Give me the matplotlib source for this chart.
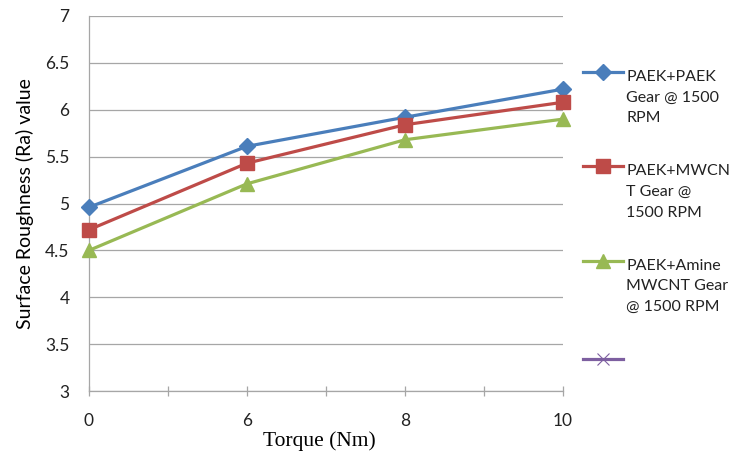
import numpy as np
import matplotlib
matplotlib.use("Agg")
import matplotlib.pyplot as plt
from matplotlib.legend_handler import HandlerLine2D
from matplotlib.ticker import FixedLocator

plt.rcParams['font.family'] = ['Lato', 'DejaVu Sans']

torque = ['0', '6', '8', '10']
paek_paek = [4.96, 5.61, 5.92, 6.22]
paek_mwcnt = [4.72, 5.43, 5.84, 6.08]
paek_amine = [4.50, 5.21, 5.68, 5.90]
empty_series = []

labels = ['PAEK+PAEK\nGear @ 1500\nRPM',
          'PAEK+MWCN\nT Gear @\n1500 RPM',
          'PAEK+Amine\nMWCNT Gear\n@ 1500 RPM',
          ' ']


class TopLineHandler(HandlerLine2D):
    # put the line beside the first text line instead of the middle one
    def __init__(self, shift, **kw):
        super().__init__(**kw)
        self.shift = shift

    def create_artists(self, legend, orig_handle, xdescent, ydescent,
                       width, height, fontsize, trans):
        arts = super().create_artists(legend, orig_handle, xdescent, ydescent,
                                      width, height, fontsize, trans)
        for a in arts:
            y = np.asarray(a.get_ydata(), dtype=float)
            a.set_ydata(y + self.shift * fontsize)
        return arts


fig = plt.figure(figsize=(7.32, 4.54), dpi=100)
ax = fig.add_axes([89 / 732, 1 - 391 / 454, 474 / 732, 375 / 454])

x = np.arange(len(torque))
l1, = ax.plot(x, paek_paek, color='#4A7EBB', lw=2.3, marker='D', ms=8.5,
              clip_on=False, zorder=4)
l2, = ax.plot(x, paek_mwcnt, color='#BE4B48', lw=2.3, marker='s', ms=9.5,
              clip_on=False, zorder=4)
l3, = ax.plot(x, paek_amine, color='#98B954', lw=2.3, marker='^', ms=10,
              clip_on=False, zorder=4)
l4, = ax.plot(empty_series, empty_series, color='#7D5FA0', lw=2.3,
              marker='x', ms=8, mew=0.8)

ax.set_xlim(0, len(torque) - 1)
ax.set_ylim(3, 7)
ax.set_yticks(np.arange(3, 7.01, 0.5))
ax.set_yticklabels(['3', '3.5', '4', '4.5', '5', '5.5', '6', '6.5', '7'])
ax.set_xticks(x)
ax.set_xticklabels(torque)
ax.xaxis.set_minor_locator(FixedLocator(x[:-1] + 0.5))

ax.grid(axis='y', color='#A6A6A6', lw=0.9)
ax.set_axisbelow(True)
for s in ['top', 'right']:
    ax.spines[s].set_visible(False)
for s in ['left', 'bottom']:
    ax.spines[s].set_color('#A6A6A6')
    ax.spines[s].set_linewidth(0.9)

ax.tick_params(axis='y', length=0, pad=14, labelsize=12.5, labelcolor='#222222')
ax.tick_params(axis='x', which='both', direction='inout', length=7,
               color='#A6A6A6', width=0.9)
ax.tick_params(axis='x', which='major', pad=12, labelsize=12.5,
               labelcolor='#222222')

ax.set_xlabel('Torque (Nm)', family='Liberation Serif', fontsize=15.5,
              va='center')
ax.xaxis.set_label_coords(0.485, -0.135)
ax.set_ylabel('Surface Roughness (Ra) value', fontsize=14, labelpad=8)

hm = {l1: TopLineHandler(1.6), l2: TopLineHandler(1.6),
      l3: TopLineHandler(1.6), l4: HandlerLine2D()}
leg = ax.legend([l1, l2, l3, l4], labels, handler_map=hm,
                loc='upper left', bbox_to_anchor=(583 / 732, 1 - 70 / 454),
                bbox_transform=fig.transFigure, frameon=False,
                fontsize=11.5, handlelength=2.5, handletextpad=0.2,
                borderpad=0, borderaxespad=0, labelspacing=2.45)
for t in leg.get_texts():
    t.set_linespacing(1.6)
    t.set_color('#222222')

fig.savefig('out.png', dpi=100)
